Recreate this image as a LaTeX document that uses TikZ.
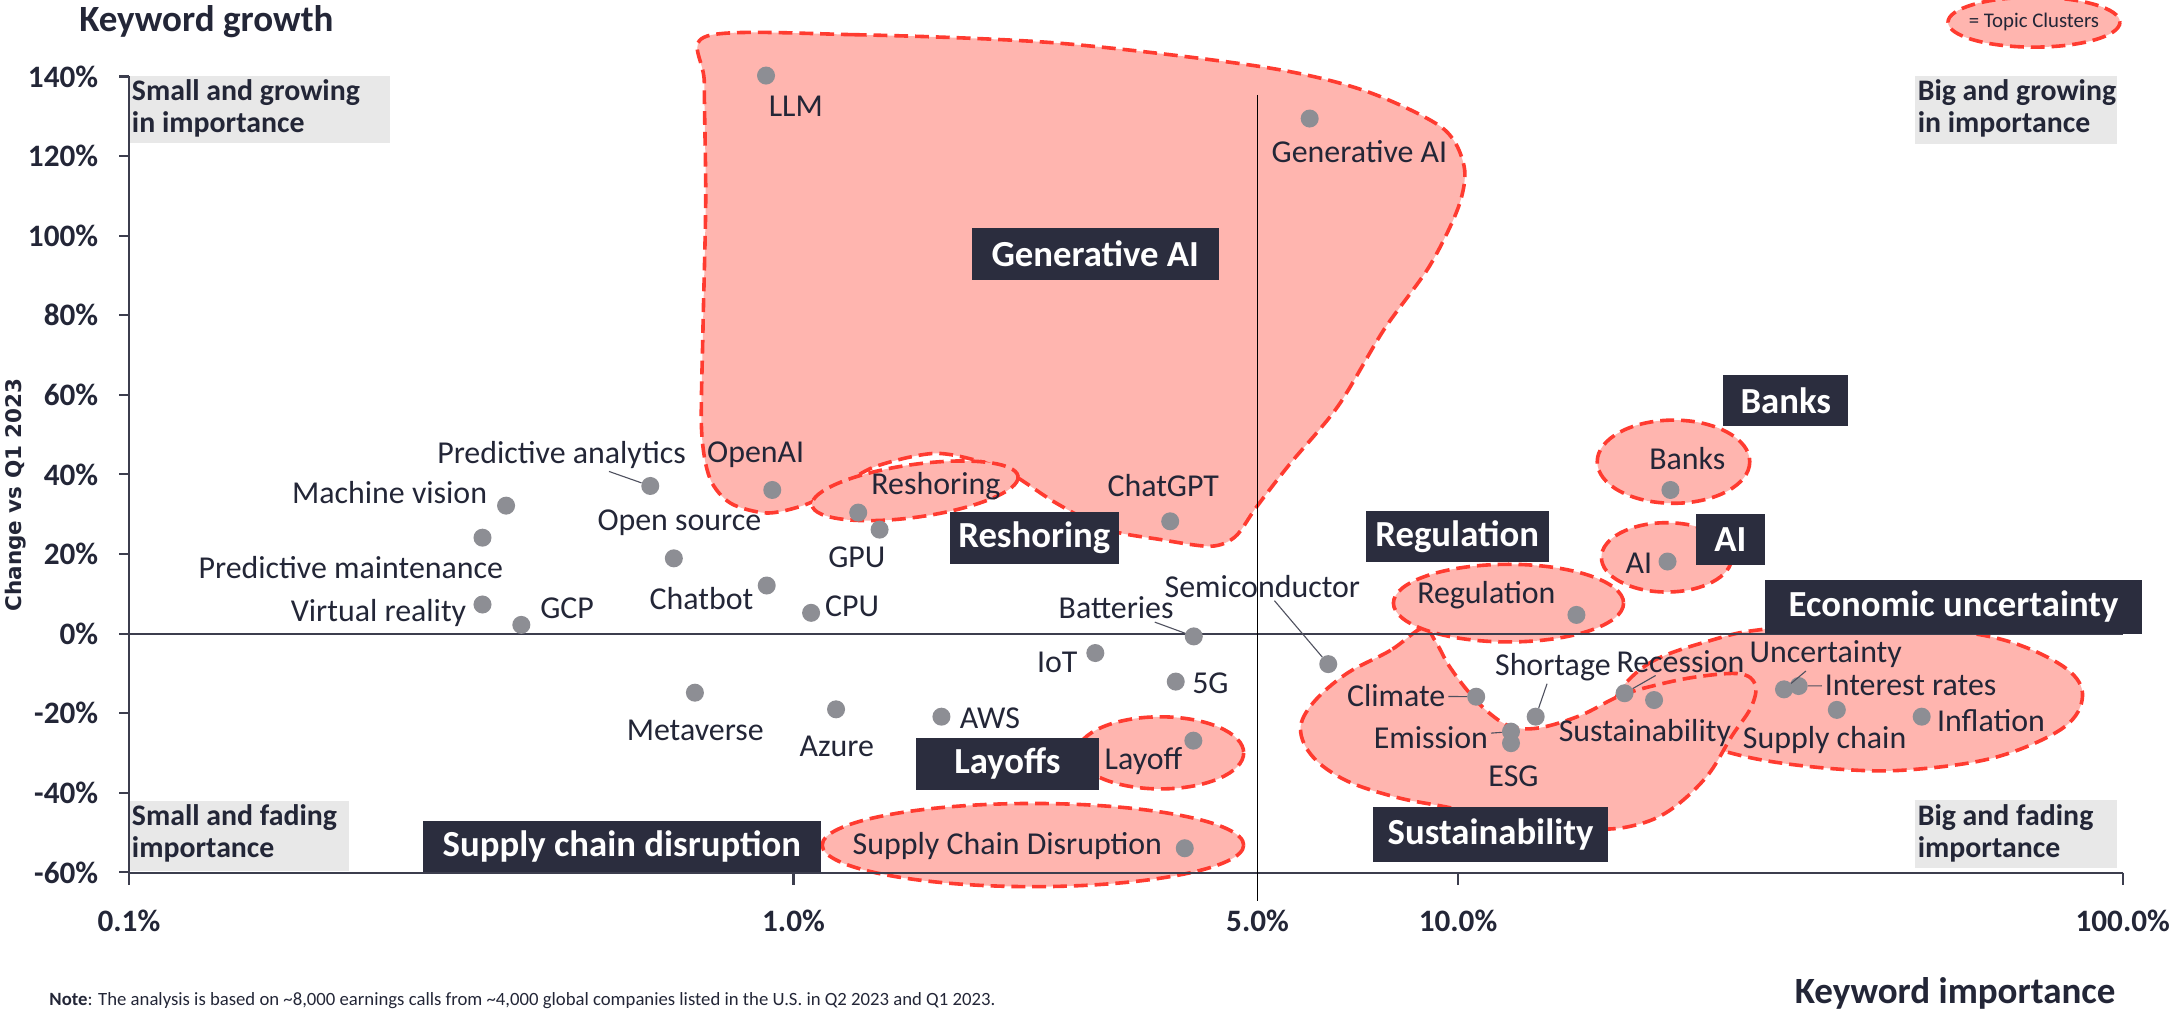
\documentclass[tikz,border=0pt]{standalone}
\usepackage{fontspec}
\setmainfont{Carlito}
\newfontfamily\axisfont{DejaVu Sans}
\usepackage{tikz}
\definecolor{inkblue}{RGB}{35,38,55}
\definecolor{boxnavy}{RGB}{43,45,62}
\definecolor{clusterfill}{RGB}{255,181,175}
\definecolor{clusterline}{RGB}{255,59,48}
\definecolor{quadgray}{RGB}{232,232,232}
\definecolor{axisgray}{RGB}{60,62,78}
\definecolor{dotgray}{RGB}{141,142,148}

\begin{document}
\begin{tikzpicture}[x=1pt, y=-1pt, dot/.style={circle, fill=dotgray, inner sep=0pt, minimum size=13pt}, lbl/.style={text=inkblue, inner sep=2pt, font=\fontsize{23}{25}\selectfont}, cluster/.style={fill=clusterfill, draw=clusterline, line width=2.6pt, dash pattern=on 10pt off 5pt}, topic/.style={fill=boxnavy, text=white, inner sep=0pt, minimum height=37pt, font=\bfseries\fontsize{26.5}{28}\selectfont}, quad/.style={text=inkblue, inner sep=0pt, align=left, font=\bfseries\fontsize{21.5}{23}\selectfont}, ticklbl/.style={text=inkblue, inner sep=0pt, font=\bfseries\fontsize{22.5}{24}\selectfont}, axisline/.style={draw=axisgray, line width=1.5pt}, leader/.style={draw=inkblue!80, line width=0.8pt}]

    \useasboundingbox (0,0) rectangle (1568,735);

    %Quadrants
    \fill[quadgray] (93,55) rectangle (281,103);
    \fill[quadgray] (1381,55) rectangle (1527,104);
    \fill[quadgray] (93,577.5) rectangle (252,628);
    \fill[quadgray] (1381,577) rectangle (1527,626);
    \node[quad, anchor=north west](q-sg) at (95,57) {Small and growing\\in importance};
    \node[quad, anchor=north west](q-bg) at (1383,57) {Big and growing\\in importance};
    \node[quad, anchor=north west](q-sf) at (95,580) {Small and fading\\importance};
    \node[quad, anchor=north west](q-bf) at (1383,580) {Big and fading\\importance};

    %Clusters
    \draw[cluster] plot[smooth cycle, tension=0.5] coordinates {(510,26) (615,25) (762,31) (909,48) (983,65) (1040,92) (1056,120) (1052,149) (1031,192) (998,238) (965,293) (930,335) (906,366) (891,387) (873,394) (836,389) (799,382) (762,363) (733,344) (711,334) (674,327) (630,337) (600,355) (578,365) (553,370) (527,363) (512,345) (506,310) (507,238) (509,144) (508,60)};
    \draw[cluster, rotate around={8:(660,354)}] (660,354) ellipse [x radius=75, y radius=19];
    \draw[cluster] plot[smooth cycle, tension=0.6] coordinates {(1165,505) (1190,478) (1237,461) (1271,454) (1330,450) (1400,454) (1450,463) (1490,482) (1502,502) (1488,525) (1440,546) (1380,555) (1330,555) (1270,548) (1220,535) (1180,522)};
    \draw[cluster] plot[smooth cycle, tension=0.6] coordinates {(1026,453) (1003,469) (971,486) (947,507) (938,526) (947,546) (971,563) (1007,575) (1043,582) (1100,593) (1150,598) (1180,595) (1205,584) (1231,560) (1249,531) (1263,510) (1266,494) (1255,486) (1225,488) (1195,494) (1168,502) (1140,516) (1110,525) (1090,524) (1075,515) (1060,500) (1045,480) (1035,462)};
    \draw[cluster] (1088,435) ellipse [x radius=83, y radius=28];
    \draw[cluster] (1207,333) ellipse [x radius=55, y radius=30];
    \draw[cluster] (1202,402) ellipse [x radius=47, y radius=25];
    \draw[cluster] (837,543) ellipse [x radius=60, y radius=26];
    \draw[cluster] (745,609.5) ellipse [x radius=152, y radius=30];

    %Axes
    \draw[axisline] (93,55) -- (93,638);
    \draw[axisline] (93,629.4) -- (1531,629.4);
    \draw[axisline] (86,457) -- (1531,457);
    \draw[draw=black, line width=1.2pt] (907,68.5) -- (907,650);
    \foreach \v in {-60,-40,...,140} {
        \draw[axisline] (86,{457-2.87*\v}) -- (93,{457-2.87*\v});
        \node[ticklbl, anchor=east](ytick\v) at (71,{457-2.87*\v}) {\v\%};
    }
    \foreach \p/\t [count=\i] in {93/0.1, 572.3/1.0, 1051.6/10.0, 1531/100.0} {
        \draw[axisline] (\p,629.4) -- (\p,638);
        \node[ticklbl](xtick\i) at (\p,664.5) {\t\%};
    }
    \node[ticklbl](xtick5) at (907,664.5) {5.0\%};

    %Dots
    \node[dot](llm) at (552.5,54.5) {};
    \node[dot](genai) at (944.6,85.5) {};
    \node[dot](openai) at (557,353.4) {};
    \node[dot](panalytics) at (469,350.5) {};
    \node[dot](mvision) at (365,364.7) {};
    \node[dot](pmaint) at (348,387.8) {};
    \node[dot](vreality) at (348,436) {};
    \node[dot](gcp) at (376,450.7) {};
    \node[dot](osource) at (486,402.7) {};
    \node[dot](chatbot) at (553,422.3) {};
    \node[dot](cpu) at (585,442) {};
    \node[dot](gpu) at (634.4,382) {};
    \node[dot](reshoring) at (619,369.7) {};
    \node[dot](chatgpt) at (844,376) {};
    \node[dot](batteries) at (861,459) {};
    \node[dot](semicon) at (958,479) {};
    \node[dot](iot) at (790,471) {};
    \node[dot](fiveg) at (848,491.6) {};
    \node[dot](metaverse) at (501.2,499.6) {};
    \node[dot](azure) at (603,511.6) {};
    \node[dot](aws) at (679,516.9) {};
    \node[dot](layoff) at (860.7,534.2) {};
    \node[dot](scd) at (854.5,611.8) {};
    \node[dot](climate) at (1064.7,502.5) {};
    \node[dot](emission) at (1089.8,527.7) {};
    \node[dot](esg) at (1089.8,536) {};
    \node[dot](shortage) at (1107.6,516.9) {};
    \node[dot](recession) at (1171.7,500) {};
    \node[dot](sustain) at (1193,504.9) {};
    \node[dot](uncert) at (1286.7,497.2) {};
    \node[dot](irates) at (1297.3,494.8) {};
    \node[dot](supplych) at (1324.8,512) {};
    \node[dot](inflation) at (1386,516.9) {};
    \node[dot](regulation) at (1137,443.5) {};
    \node[dot](ai) at (1202.7,405) {};
    \node[dot](banks) at (1204.8,353.4) {};

    %Labels
    \node[lbl](llm-t) at (574,77) {LLM};
    \node[lbl](genai-t) at (980.5,109.5) {Generative AI};
    \node[lbl](openai-t) at (545,328) {OpenAI};
    \node[lbl](panalytics-t) at (405,328) {Predictive analytics};
    \node[lbl](mvision-t) at (281,355) {Machine vision};
    \node[lbl](pmaint-t) at (253,409) {Predictive maintenance};
    \node[lbl](vreality-t) at (273,442) {Virtual reality};
    \node[lbl](gcp-t) at (409,439) {GCP};
    \node[lbl](osource-t) at (490,377) {Open source};
    \node[lbl](chatbot-t) at (506,432) {Chatbot};
    \node[lbl](cpu-t) at (614.5,437.5) {CPU};
    \node[lbl](gpu-t) at (618,402) {GPU};
    \node[lbl](reshoring-t) at (675,351) {Reshoring};
    \node[lbl](chatgpt-t) at (839,350) {ChatGPT};
    \node[lbl](batteries-t) at (805,438.5) {Batteries};
    \node[lbl](semicon-t) at (910.5,423) {Semiconductor};
    \node[lbl](iot-t) at (762.5,477.5) {IoT};
    \node[lbl](fiveg-t) at (873,493) {5G};
    \node[lbl](metaverse-t) at (501.4,527) {Metaverse};
    \node[lbl](azure-t) at (603.5,538.5) {Azure};
    \node[lbl](aws-t) at (714,518) {AWS};
    \node[lbl](layoff-t) at (824.7,549) {Layoff};
    \node[lbl](scd-t) at (726.6,610) {Supply Chain Disruption};
    \node[lbl](climate-t) at (1007,502) {Climate};
    \node[lbl](emission-t) at (1032,532) {Emission};
    \node[lbl](esg-t) at (1091.6,560) {ESG};
    \node[lbl](shortage-t) at (1120,481) {Shortage};
    \node[lbl](recession-t) at (1212,477) {Recession};
    \node[lbl](sustain-t) at (1186.4,529) {Sustainability};
    \node[lbl](uncert-t) at (1316.8,472) {Uncertainty};
    \node[lbl](irates-t) at (1378,494) {Interest rates};
    \node[lbl](supplych-t) at (1316,534) {Supply chain};
    \node[lbl](inflation-t) at (1436,520) {Inflation};
    \node[lbl](regulation-t) at (1072,429) {Regulation};
    \node[lbl](ai-t) at (1182,406) {AI};
    \node[lbl](banks-t) at (1217,331) {Banks};

    %Lines
    \draw[leader] (panalytics-t) -- (panalytics);
    \draw[leader] (batteries-t) -- (batteries);
    \draw[leader] (semicon-t) -- (semicon);
    \draw[leader] (climate-t) -- (climate);
    \draw[leader] (emission-t) -- (emission);
    \draw[leader] (shortage-t) -- (shortage);
    \draw[leader] (recession-t) -- (recession);
    \draw[leader] (uncert-t) -- (uncert);
    \draw[leader] (irates-t) -- (irates);

    %Topics
    \node[topic, minimum width=178.5pt](t-genai) at (790,183.3) {Generative AI};
    \node[topic, minimum width=122pt](t-reshoring) at (746,388) {Reshoring};
    \node[topic, minimum width=132pt](t-regulation) at (1051,387) {Regulation};
    \node[topic, minimum width=90pt](t-banks) at (1288,289) {Banks};
    \node[topic, minimum width=50pt](t-ai) at (1248,389) {AI};
    \node[topic, minimum width=272pt, minimum height=39pt](t-econ) at (1409,437.5) {Economic uncertainty};
    \node[topic, minimum width=170pt, minimum height=39.5pt](t-sustain) at (1075,601.7) {Sustainability};
    \node[topic, minimum width=132pt](t-layoffs) at (726.6,551) {Layoffs};
    \node[topic, minimum width=287pt](t-scd) at (448.5,610.5) {Supply chain disruption};

    %Legend and titles
    \draw[cluster] (1467,16) ellipse [x radius=62, y radius=18];
    \node[text=inkblue, font=\fontsize{15}{17}\selectfont](legend) at (1467,16) {= Topic Clusters};
    \node[text=inkblue, anchor=base west, inner sep=0pt, font=\bfseries\fontsize{26.7}{28}\selectfont](ytitle) at (57,22.5) {Keyword growth};
    \node[text=inkblue, anchor=base east, inner sep=0pt, font=\bfseries\fontsize{26.7}{28}\selectfont](xtitle) at (1526,724) {Keyword importance};
    \node[text=inkblue, rotate=90, font=\axisfont\bfseries\fontsize{15.5}{17}\selectfont](ylabel) at (11,357) {Change vs Q1 2023};
    \node[text=inkblue, anchor=west, inner sep=0pt, font=\fontsize{13.5}{15}\selectfont](note) at (35.5,722) {\textbf{Note}: The analysis is based on \textasciitilde8,000 earnings calls from \textasciitilde4,000 global companies listed in the U.S. in Q2 2023 and Q1 2023.};

\end{tikzpicture}
\end{document}
